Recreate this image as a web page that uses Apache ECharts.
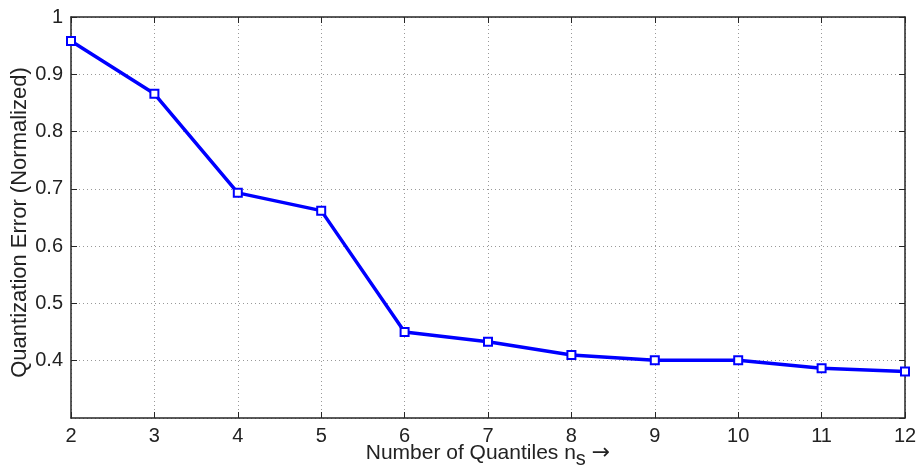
<!DOCTYPE html>
<html>
<head>
<meta charset="utf-8">
<script src="https://cdn.jsdelivr.net/npm/echarts@6/dist/echarts.min.js"></script>
<style>
  html, body { margin: 0; padding: 0; background: #fff; }
  #chart { width: 916px; height: 472px; }
</style>
</head>
<body>
<div id="chart"></div>
<script>
// 量化误差数据
var quantiles = [2, 3, 4, 5, 6, 7, 8, 9, 10, 11, 12];
var errors = [0.958, 0.866, 0.693, 0.662, 0.450, 0.433, 0.410, 0.401, 0.401, 0.387, 0.381];
var yTicks = [0.4, 0.5, 0.6, 0.7, 0.8, 0.9, 1];

var points = quantiles.map(function (q, i) { return [q, errors[i]]; });

var myChart = echarts.init(document.getElementById('chart'));
var fontFam = 'Liberation Sans, Arial, sans-serif';
var lineCol = '#262626';

var option = {
  animation: false,
  grid: { left: 71, right: 11, top: 17, bottom: 54, outerBoundsMode: 'none', containLabel: false },
  xAxis: [{
    type: 'value', min: 2, max: 12, interval: 1,
    name: '{t|Number of Quantiles n}{sub|s}{arr|\u2192}',
    nameLocation: 'middle', nameGap: 24, nameMoveOverlap: false,
    nameTextStyle: {
      color: '#222', fontSize: 21, fontFamily: fontFam, lineHeight: 22,
      rich: {
        t: { fontSize: 21, fontFamily: fontFam, color: '#222', lineHeight: 22 },
        sub: { fontSize: 20, fontFamily: fontFam, color: '#222', lineHeight: 22, padding: [12, 6, 0, 0] },
        arr: { fontSize: 22, fontFamily: 'DejaVu Sans', color: '#222', lineHeight: 22 }
      }
    },
    axisLine: { show: true, lineStyle: { color: lineCol, width: 1.5 } },
    axisTick: { inside: true, length: 6, lineStyle: { color: lineCol } },
    axisLabel: { color: '#222', fontSize: 20, fontFamily: fontFam, margin: 8 },
    splitLine: { show: true, lineStyle: { color: '#999', type: [1, 3], width: 1 } }
  }, {
    type: 'value', min: 2, max: 12, interval: 1, position: 'top',
    axisLine: { show: true, lineStyle: { color: lineCol, width: 1.5 } },
    axisTick: { inside: true, length: 6, lineStyle: { color: lineCol } },
    axisLabel: { show: false }, splitLine: { show: false }
  }],
  yAxis: [{
    type: 'value', min: 0.3, max: 1, interval: 0.1,
    name: 'Quantization Error (Normalized)',
    nameLocation: 'middle', nameGap: 40, nameMoveOverlap: false,
    nameTextStyle: { color: '#222', fontSize: 22, fontFamily: fontFam, padding: [0, 10, 0, 0] },
    axisLine: { show: true, lineStyle: { color: lineCol, width: 1.5 } },
    axisTick: { inside: true, length: 6, lineStyle: { color: lineCol } },
    axisLabel: {
      color: '#222', fontSize: 20, fontFamily: fontFam, margin: 8, showMinLabel: false,
      formatter: function (v) {
        var r = Math.round(v * 10) / 10;
        return yTicks.indexOf(r) >= 0 ? String(r) : '';
      }
    },
    splitLine: { show: true, lineStyle: { color: '#999', type: [1, 3], width: 1 } }
  }, {
    type: 'value', min: 0.3, max: 1, interval: 0.1, position: 'right',
    axisLine: { show: true, lineStyle: { color: lineCol, width: 1.5 } },
    axisTick: { inside: true, length: 6, lineStyle: { color: lineCol } },
    axisLabel: { show: false }, splitLine: { show: false }
  }],
  series: [{
    type: 'line',
    data: points,
    xAxisIndex: 0, yAxisIndex: 0,
    symbol: 'emptyRect', symbolSize: 8,
    lineStyle: { color: '#0000ff', width: 3.5 },
    itemStyle: { color: '#0000ff', borderColor: '#0000ff', borderWidth: 3 }
  }]
};
myChart.setOption(option);
</script>
</body>
</html>
